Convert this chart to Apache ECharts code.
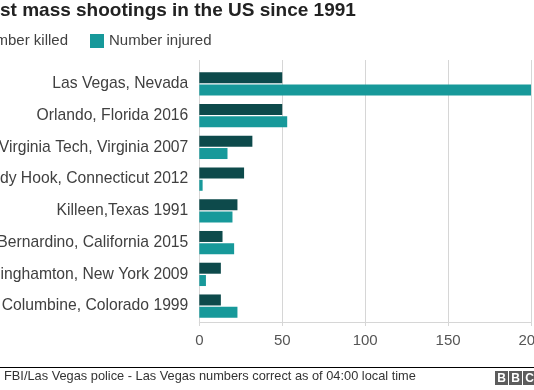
<!DOCTYPE html>
<html>
<head>
<meta charset="utf-8">
<script src="https://cdn.jsdelivr.net/npm/echarts@6/dist/echarts.min.js"></script>
<style>
  html, body { margin: 0; padding: 0; background: #fff; overflow: hidden; width: 534px; height: 390px; }
  #chart { position: absolute; top: 0; }
</style>
</head>
<body>
<div id="chart"></div>
<script>
// ---- data ----
const titleText = 'Worst mass shootings in the US since 1991';
const seriesNames = ['Number killed', 'Number injured'];
const categories = [
  'Las Vegas, Nevada',
  'Orlando, Florida 2016',
  'Virginia Tech, Virginia 2007',
  'Sandy Hook, Connecticut 2012',
  'Killeen,Texas 1991',
  'San Bernardino, California 2015',
  'Binghamton, New York 2009',
  'Columbine, Colorado 1999'
];
const killed = [50, 50, 32, 27, 23, 14, 13, 13];
const injured = [200, 53, 17, 2, 20, 21, 4, 23];
const xTicks = [0, 50, 100, 150, 200];
const sourceText = 'Source: FBI/Las Vegas police - Las Vegas numbers correct as of 04:00 local time';
const logoLetters = ['B', 'B', 'C'];

// ---- layout ----
const FONT = '"Liberation Sans", Arial, Helvetica, sans-serif';
const OFF = 46;              // the visible window is a crop of a wider graphic
const W = 534 + OFF + 50;
const H = 390;
const el = document.getElementById('chart');
el.style.left = (-OFF) + 'px';
el.style.width = W + 'px';
el.style.height = H + 'px';

const mctx = document.createElement('canvas').getContext('2d');
function tw(txt, font) { mctx.font = font; return mctx.measureText(txt).width; }

const titleLeft = OFF - tw('Wor', 'bold 19px ' + FONT);
const legendLeft = OFF + 90 - 22 - tw(seriesNames[0], '15px ' + FONT) - 5 - 14;
const sourceLeft = OFF + 4 - tw('Source: ', '12.8px ' + FONT);

const axisX0 = OFF + 199.3, axisW = 331.7;
const colors = ['#0d4a4b', '#17999a'];

const chart = echarts.init(el, null, { renderer: 'canvas' });
const option = {
  animation: false,
  color: colors,
  title: {
    text: titleText, left: titleLeft, top: 1.5, padding: 0,
    textStyle: { fontFamily: FONT, fontSize: 19, fontWeight: 'bold', color: '#222' }
  },
  legend: {
    data: seriesNames, left: legendLeft, top: 33.5, padding: 0,
    icon: 'rect', itemWidth: 14, itemHeight: 14, itemGap: 22,
    textStyle: { fontFamily: FONT, fontSize: 15, color: '#404040', padding: [0, 0, 0, 0] }
  },
  grid: [
    { left: axisX0, width: axisW, top: 60, height: 262, containLabel: false },
    { left: axisX0, width: axisW, top: 68, height: 254, containLabel: false }
  ],
  xAxis: [
    {
      gridIndex: 0, type: 'value', min: xTicks[0], max: xTicks[xTicks.length - 1], interval: xTicks[1] - xTicks[0],
      axisLine: { show: true, lineStyle: { color: '#d6d6d6' } },
      axisTick: { show: true, length: 4, lineStyle: { color: '#d6d6d6' } },
      splitLine: { show: true, lineStyle: { color: '#d6d6d6' } },
      axisLabel: { fontFamily: FONT, fontSize: 15, color: '#555', margin: 11.5 }
    },
    { gridIndex: 1, type: 'value', min: xTicks[0], max: xTicks[xTicks.length - 1], show: false }
  ],
  yAxis: [
    { gridIndex: 0, type: 'category', data: categories, inverse: true, show: false },
    {
      gridIndex: 1, type: 'category', data: categories, inverse: true,
      axisLine: { show: false }, axisTick: { show: false }, splitLine: { show: false },
      axisLabel: { fontFamily: FONT, fontSize: 15.7, color: '#404040', margin: 11 }
    }
  ],
  series: [
    { name: seriesNames[0], type: 'bar', xAxisIndex: 1, yAxisIndex: 1, data: killed, barWidth: 11, barGap: '12%' },
    { name: seriesNames[1], type: 'bar', xAxisIndex: 1, yAxisIndex: 1, data: injured, barWidth: 11, barGap: '12%' }
  ],
  graphic: [
    { type: 'line', shape: { x1: 0, y1: 367.5, x2: W, y2: 367.5 }, style: { stroke: '#000', lineWidth: 1 } },
    { type: 'text', left: sourceLeft, top: 370, style: { text: sourceText, font: '12.8px ' + FONT, fill: '#333' } }
  ].concat(logoLetters.map((ch, i) => ({
    type: 'group', left: OFF + 495 + i * 14, top: 371,
    children: [
      { type: 'rect', shape: { x: 0, y: 0, width: 13, height: 14 }, style: { fill: '#5c5c5c' } },
      { type: 'text', x: 6.5, y: 7.5, style: { text: ch, font: 'bold 12px ' + FONT, fill: '#fff', align: 'center', verticalAlign: 'middle' } }
    ]
  })))
};
chart.setOption(option);
</script>
</body>
</html>
